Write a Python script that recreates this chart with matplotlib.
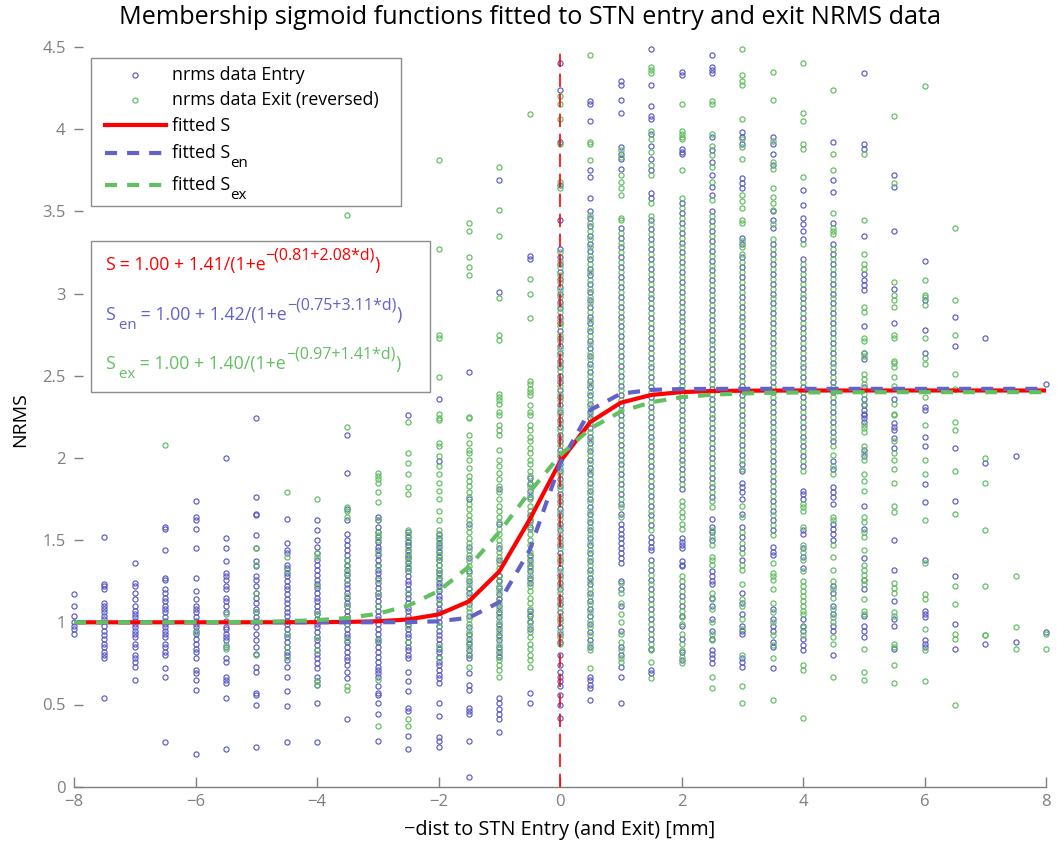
import numpy as np
import matplotlib
matplotlib.use("Agg")
import matplotlib.pyplot as plt
from matplotlib.patches import Rectangle
from matplotlib.lines import Line2D

plt.rcParams['font.family'] = ['Open Sans', 'DejaVu Sans']

# ---------------------------------------------------------------- data
depth_mm = [-8.0, -7.5, -7.0, -6.5, -6.0, -5.5, -5.0, -4.5, -4.0, -3.5, -3.0,
            -2.5, -2.0, -1.5, -1.0, -0.5, 0.0, 0.5, 1.0, 1.5, 2.0, 2.5, 3.0,
            3.5, 4.0, 4.5, 5.0, 5.5, 6.0, 6.5, 7.0, 7.5, 8.0]
x_ticks = [-8, -6, -4, -2, 0, 2, 4, 6, 8]
x_tick_labels = ['\u22128', '\u22126', '\u22124', '\u22122', '0', '2', '4', '6', '8']
y_ticks = [0, 0.5, 1, 1.5, 2, 2.5, 3, 3.5, 4, 4.5]
y_tick_labels = ['0', '0.5', '1', '1.5', '2', '2.5', '3', '3.5', '4', '4.5']

# NRMS samples per recording depth: entry trajectories (en_*) and exit (ex_*)
en_m80 = [1.17, 1.10, 1.04, 1.00, 0.98, 0.96, 0.93]
ex_m80 = []
en_m75 = [1.52, 1.23, 1.22, 1.20, 1.12, 1.10, 1.08, 1.06, 1.04, 1.02, 0.98, 0.95, 0.92,
          0.90, 0.87, 0.85, 0.82, 0.80, 0.78, 0.54]
ex_m75 = []
en_m70 = [1.36, 1.24, 1.22, 1.18, 1.14, 1.10, 1.07, 1.05, 1.03, 1.01, 0.99, 0.97, 0.95,
          0.93, 0.91, 0.87, 0.85, 0.80, 0.78, 0.76, 0.73, 0.65]
ex_m70 = []
en_m65 = [1.58, 1.57, 1.44, 1.27, 1.26, 1.20, 1.18, 1.15, 1.13, 1.10, 1.08, 1.06, 1.03,
          1.01, 0.99, 0.97, 0.95, 0.93, 0.91, 0.87, 0.85, 0.82, 0.80, 0.72, 0.67, 0.27]
ex_m65 = [2.08]
en_m60 = [1.74, 1.64, 1.62, 1.57, 1.45, 1.27, 1.19, 1.14, 1.10, 1.08, 1.06, 1.03, 1.01,
          0.99, 0.97, 0.95, 0.93, 0.90, 0.87, 0.84, 0.82, 0.78, 0.71, 0.69, 0.65, 0.59, 0.20]
ex_m60 = [0.94]
en_m55 = [2.00, 1.51, 1.45, 1.37, 1.30, 1.28, 1.26, 1.22, 1.20, 1.15, 1.13, 1.10, 1.06,
          1.01, 0.97, 0.96, 0.93, 0.91, 0.89, 0.85, 0.78, 0.76, 0.67, 0.65, 0.63, 0.54, 0.23]
ex_m55 = [1.05, 0.86, 0.84]
en_m50 = [2.24, 1.76, 1.66, 1.65, 1.53, 1.45, 1.37, 1.34, 1.28, 1.26, 1.22, 1.18, 1.15,
          1.12, 1.08, 1.06, 1.03, 1.01, 0.97, 0.93, 0.89, 0.85, 0.81, 0.73, 0.70, 0.57,
          0.56, 0.50, 0.24]
ex_m50 = [1.45, 1.35, 1.18, 1.06, 0.80]
en_m45 = [1.63, 1.48, 1.44, 1.42, 1.35, 1.33, 1.30, 1.28, 1.25, 1.22, 1.20, 1.17, 1.14,
          1.12, 1.09, 1.06, 1.04, 1.01, 0.99, 0.96, 0.93, 0.91, 0.88, 0.85, 0.82, 0.80,
          0.77, 0.73, 0.67, 0.58, 0.49, 0.27]
ex_m45 = [1.79, 1.40, 1.32, 0.93, 0.85, 0.79]
en_m40 = [1.62, 1.56, 1.50, 1.46, 1.42, 1.38, 1.35, 1.32, 1.29, 1.26, 1.23, 1.21, 1.18,
          1.15, 1.13, 1.10, 1.07, 1.05, 1.02, 0.99, 0.97, 0.94, 0.91, 0.89, 0.86, 0.83,
          0.81, 0.78, 0.75, 0.72, 0.67, 0.64, 0.62, 0.51, 0.27]
ex_m40 = [1.75, 1.42, 1.40, 1.22, 1.05, 0.91, 0.83, 0.64, 0.62]
en_m35 = [2.14, 1.91, 1.69, 1.62, 1.54, 1.50, 1.47, 1.44, 1.41, 1.38, 1.35, 1.32, 1.29,
          1.26, 1.23, 1.21, 1.18, 1.15, 1.12, 1.10, 1.07, 1.04, 1.02, 0.99, 0.96, 0.93,
          0.91, 0.88, 0.85, 0.82, 0.79, 0.77, 0.74, 0.70, 0.66, 0.41]
ex_m35 = [3.48, 2.19, 1.70, 1.68, 1.64, 1.38, 1.34, 1.30, 1.26, 1.16, 1.10, 0.99, 0.89,
          0.61, 0.59]
en_m30 = [1.64, 1.62, 1.58, 1.55, 1.52, 1.49, 1.46, 1.44, 1.41, 1.38, 1.35, 1.32, 1.30,
          1.27, 1.24, 1.21, 1.18, 1.16, 1.13, 1.10, 1.07, 1.04, 1.02, 0.99, 0.96, 0.93,
          0.90, 0.88, 0.85, 0.82, 0.79, 0.76, 0.73, 0.71, 0.69, 0.67, 0.61, 0.57, 0.56,
          0.51, 0.44, 0.28]
ex_m30 = [1.91, 1.89, 1.87, 1.85, 1.79, 1.73, 1.62, 1.55, 1.53, 1.50, 1.42, 1.34, 1.26,
          1.18, 1.10, 0.89, 0.65, 0.37]
en_m25 = [2.26, 1.55, 1.52, 1.49, 1.47, 1.44, 1.41, 1.39, 1.36, 1.33, 1.31, 1.28, 1.25,
          1.23, 1.20, 1.17, 1.15, 1.12, 1.09, 1.07, 1.04, 1.01, 0.99, 0.96, 0.93, 0.91,
          0.88, 0.85, 0.83, 0.80, 0.78, 0.70, 0.64, 0.58, 0.48, 0.46, 0.31, 0.23]
ex_m25 = [2.22, 2.03, 1.97, 1.90, 1.82, 1.78, 1.56, 1.53, 1.50, 1.46, 1.43, 1.40, 1.37,
          1.34, 1.31, 1.18, 1.02, 0.98, 0.88, 0.41, 0.37]
en_m20 = [2.36, 1.98, 1.54, 1.51, 1.48, 1.46, 1.43, 1.40, 1.38, 1.35, 1.32, 1.30, 1.27,
          1.24, 1.22, 1.19, 1.16, 1.14, 1.11, 1.08, 1.06, 1.03, 1.00, 0.98, 0.95, 0.92,
          0.90, 0.87, 0.84, 0.82, 0.79, 0.76, 0.74, 0.71, 0.68, 0.66, 0.63, 0.51, 0.43,
          0.30, 0.28, 0.24]
ex_m20 = [3.81, 3.27, 2.75, 2.73, 2.49, 2.27, 2.24, 2.23, 2.09, 2.07, 2.01, 1.95, 1.90,
          1.85, 1.80, 1.75, 1.68, 1.62, 1.56, 1.53, 1.50, 1.47, 1.44, 1.41, 1.38, 1.35,
          1.32, 1.29, 1.26, 1.20, 1.12, 0.98, 0.85, 0.78]
en_m15 = [2.52, 1.75, 1.60, 1.46, 1.39, 1.31, 1.25, 1.21, 1.18, 1.11, 1.04, 0.97, 0.93,
          0.90, 0.87, 0.83, 0.80, 0.78, 0.69, 0.62, 0.59, 0.48, 0.46, 0.44, 0.28, 0.06]
ex_m15 = [3.43, 3.38, 3.22, 3.16, 3.11, 2.25, 2.24, 2.14, 2.09, 2.05, 2.03, 1.99, 1.94,
          1.89, 1.86, 1.83, 1.79, 1.76, 1.72, 1.69, 1.65, 1.62, 1.58, 1.55, 1.51, 1.48,
          1.44, 1.41, 1.37, 1.34, 1.30, 1.27, 1.23, 1.20, 1.16, 1.13, 1.09, 1.06, 1.02,
          0.99, 0.95, 0.92, 0.88, 0.85, 0.81, 0.73]
en_m10 = [3.69, 3.01, 1.81, 1.60, 1.45, 1.38, 1.28, 1.25, 1.21, 1.17, 1.14, 1.10, 1.06,
          1.03, 0.99, 0.96, 0.92, 0.89, 0.85, 0.82, 0.79, 0.54, 0.51, 0.47, 0.44, 0.41, 0.33]
ex_m10 = [3.77, 3.51, 3.35, 2.97, 2.75, 2.72, 2.39, 2.37, 2.35, 2.33, 2.28, 2.26, 2.20,
          2.17, 2.14, 2.05, 1.99, 1.95, 1.91, 1.87, 1.83, 1.79, 1.75, 1.71, 1.68, 1.64,
          1.61, 1.57, 1.54, 1.50, 1.47, 1.43, 1.40, 1.36, 1.33, 1.29, 1.26, 1.22, 1.19,
          1.15, 1.12, 1.08, 1.05, 1.01, 0.98, 0.94, 0.91, 0.87, 0.84, 0.80, 0.77, 0.74,
          0.71, 0.67]
en_m05 = [3.23, 3.21, 1.88, 1.84, 1.80, 1.76, 1.65, 1.62, 1.58, 1.41, 1.38, 1.34, 1.31,
          1.27, 1.24, 1.07, 1.04, 1.00, 0.96, 0.57, 0.51]
ex_m05 = [4.09, 3.09, 3.00, 2.85, 2.47, 2.45, 2.42, 2.40, 2.38, 2.32, 2.28, 2.26, 2.20,
          2.17, 2.13, 2.10, 2.06, 2.03, 1.99, 1.96, 1.92, 1.89, 1.85, 1.82, 1.78, 1.75,
          1.71, 1.68, 1.64, 1.61, 1.57, 1.54, 1.50, 1.47, 1.43, 1.40, 1.36, 1.33, 1.29,
          1.26, 1.22, 1.19, 1.15, 1.12, 1.08, 1.05, 1.01, 0.98, 0.94, 0.91, 0.87, 0.84,
          0.80, 0.77, 0.73]
en_000 = [4.40, 4.24, 3.92, 3.66, 3.45, 3.27, 3.22, 3.18, 3.13, 3.09, 3.04, 3.00, 2.95,
          2.91, 2.86, 2.82, 2.77, 2.73, 2.68, 2.64, 2.59, 2.55, 2.50, 2.46, 2.41, 2.37,
          2.32, 2.28, 2.23, 2.19, 2.14, 2.10, 2.05, 2.01, 1.96, 1.92, 1.87, 1.83, 1.78,
          1.74, 1.69, 1.65, 1.60, 1.56, 1.51, 1.47, 1.42, 1.38, 1.33, 1.29, 1.24, 1.20,
          1.15, 1.11, 1.06, 1.02, 0.97, 0.93, 0.88, 0.80, 0.74, 0.70, 0.67, 0.64, 0.61,
          0.56, 0.50, 0.42]
ex_000 = [4.20, 4.15, 4.06, 3.91, 3.68, 3.64, 3.25, 3.20, 3.16, 3.11, 3.07, 3.02, 2.98,
          2.93, 2.89, 2.84, 2.80, 2.75, 2.71, 2.66, 2.62, 2.57, 2.53, 2.48, 2.44, 2.39,
          2.35, 2.30, 2.26, 2.21, 2.17, 2.12, 2.08, 2.03, 1.99, 1.94, 1.90, 1.85, 1.81,
          1.76, 1.72, 1.67, 1.63, 1.58, 1.54, 1.49, 1.45, 1.40, 1.36, 1.31, 1.27, 1.22,
          1.18, 1.13, 1.09, 1.04, 1.00, 0.95, 0.91, 0.87]
en_p05 = [4.17, 4.15, 4.05, 3.75, 3.71, 3.58, 3.50, 3.46, 3.41, 3.35, 3.30, 3.26, 3.21,
          3.15, 3.11, 3.06, 3.01, 2.96, 2.92, 2.86, 2.82, 2.77, 2.71, 2.67, 2.62, 2.57,
          2.52, 2.47, 2.43, 2.38, 2.33, 2.28, 2.24, 2.18, 2.13, 2.09, 2.04, 1.99, 1.94,
          1.90, 1.85, 1.80, 1.75, 1.70, 1.66, 1.61, 1.56, 1.51, 1.47, 1.42, 1.37, 1.32,
          1.27, 1.23, 1.18, 1.13, 1.08, 1.04, 0.99, 0.94, 0.89, 0.85, 0.67, 0.65, 0.62,
          0.60, 0.53]
ex_p05 = [4.45, 3.92, 3.91, 3.81, 3.48, 3.43, 3.38, 3.33, 3.28, 3.23, 3.18, 3.13, 3.08,
          3.03, 2.98, 2.94, 2.89, 2.84, 2.79, 2.74, 2.69, 2.64, 2.60, 2.55, 2.50, 2.45,
          2.40, 2.35, 2.31, 2.26, 2.21, 2.16, 2.11, 2.06, 2.02, 1.97, 1.92, 1.87, 1.82,
          1.78, 1.73, 1.68, 1.63, 1.58, 1.54, 1.49, 1.44, 1.39, 1.35, 1.30, 1.25, 1.20,
          1.16, 1.11, 1.06, 1.01, 0.97, 0.92, 0.87, 0.83, 0.72]
en_p10 = [4.29, 4.27, 4.18, 4.10, 3.89, 3.85, 3.82, 3.76, 3.40, 3.34, 3.28, 3.22, 3.16,
          3.10, 3.04, 2.98, 2.92, 2.86, 2.80, 2.74, 2.68, 2.62, 2.56, 2.50, 2.44, 2.38,
          2.32, 2.26, 2.20, 2.14, 2.08, 2.02, 1.96, 1.90, 1.84, 1.78, 1.72, 1.66, 1.60,
          1.57, 1.54, 1.51, 1.48, 1.45, 1.42, 1.39, 1.36, 1.25, 1.20, 1.10, 0.95, 0.85,
          0.80, 0.73, 0.67, 0.51]
ex_p10 = [3.87, 3.83, 3.72, 3.68, 3.64, 3.60, 3.46, 3.45, 3.37, 3.31, 3.25, 3.19, 3.13,
          3.07, 3.01, 2.95, 2.89, 2.83, 2.77, 2.71, 2.65, 2.59, 2.53, 2.47, 2.41, 2.35,
          2.29, 2.23, 2.17, 2.11, 2.05, 1.99, 1.93, 1.87, 1.81, 1.75, 1.70, 1.64, 1.24,
          1.18, 1.12, 1.05, 1.00, 0.93, 0.88, 0.83, 0.78, 0.76]
en_p15 = [4.49, 4.27, 4.14, 4.08, 4.06, 3.97, 3.90, 3.82, 3.75, 3.61, 3.58, 3.45, 3.39,
          3.33, 3.27, 3.21, 3.15, 3.09, 3.03, 2.97, 2.91, 2.85, 2.79, 2.73, 2.67, 2.61,
          2.55, 2.49, 2.43, 2.37, 2.31, 2.25, 2.19, 2.13, 2.07, 2.01, 1.95, 1.89, 1.83,
          1.77, 1.71, 1.65, 1.59, 1.52, 1.49, 1.46, 1.44, 1.38, 1.32, 1.26, 1.20, 1.14,
          1.08, 1.02, 0.96, 0.90, 0.84, 0.71, 0.69]
ex_p15 = [4.38, 4.36, 4.34, 3.99, 3.94, 3.86, 3.78, 3.72, 3.55, 3.47, 3.42, 3.36, 3.30,
          3.24, 3.18, 3.12, 3.06, 3.00, 2.94, 2.88, 2.82, 2.76, 2.70, 2.64, 2.58, 2.52,
          2.46, 2.40, 2.34, 2.28, 2.22, 2.16, 2.10, 2.04, 1.98, 1.92, 1.86, 1.80, 1.74,
          1.68, 1.62, 1.56, 1.35, 1.29, 1.23, 1.17, 1.11, 1.05, 0.99, 0.93, 0.87, 0.83,
          0.76, 0.66]
en_p20 = [4.35, 4.33, 3.88, 3.86, 3.85, 3.55, 3.49, 3.43, 3.37, 3.31, 3.25, 3.19, 3.13,
          3.07, 3.01, 2.95, 2.89, 2.83, 2.77, 2.71, 2.65, 2.59, 2.53, 2.47, 2.41, 2.35,
          2.29, 2.23, 2.17, 2.11, 2.05, 1.99, 1.93, 1.87, 1.81, 1.51, 1.49, 1.47, 1.45,
          1.37, 1.35, 1.34, 1.22, 1.16, 1.10, 1.04, 0.98, 0.90, 0.82, 0.77]
ex_p20 = [4.15, 3.99, 3.97, 3.95, 3.94, 3.75, 3.58, 3.52, 3.46, 3.40, 3.34, 3.28, 3.22,
          3.16, 3.10, 3.04, 2.98, 2.92, 2.86, 2.80, 2.74, 2.68, 2.62, 2.56, 2.50, 2.44,
          2.38, 2.32, 2.26, 2.20, 2.14, 2.08, 2.02, 1.96, 1.90, 1.84, 1.74, 1.71, 1.67,
          1.64, 1.60, 1.57, 1.28, 1.25, 1.19, 1.13, 1.07, 1.03, 0.99, 0.93, 0.87, 0.83,
          0.79, 0.75]
en_p25 = [4.45, 4.38, 4.36, 4.34, 3.95, 3.87, 3.80, 3.72, 3.65, 3.60, 3.50, 3.44, 3.38,
          3.32, 3.26, 3.20, 3.14, 3.08, 3.02, 2.96, 2.90, 2.84, 2.78, 2.72, 2.66, 2.60,
          2.54, 2.48, 2.42, 2.36, 2.30, 2.24, 2.18, 2.12, 2.06, 2.00, 1.94, 1.88, 1.82,
          1.76, 1.63, 1.58, 1.55, 1.50, 1.31, 1.28, 1.25, 1.23, 1.15, 1.10, 1.02, 0.95,
          0.90, 0.83, 0.81, 0.78, 0.75]
ex_p25 = [4.17, 4.15, 3.97, 3.90, 3.84, 3.77, 3.68, 3.57, 3.47, 3.41, 3.35, 3.29, 3.23,
          3.17, 3.11, 3.05, 2.99, 2.93, 2.87, 2.81, 2.75, 2.69, 2.63, 2.57, 2.51, 2.45,
          2.39, 2.33, 2.27, 2.21, 2.15, 2.09, 2.03, 1.97, 1.91, 1.85, 1.79, 1.74, 1.70,
          1.56, 1.52, 1.47, 1.40, 1.38, 1.35, 1.18, 1.14, 1.08, 1.00, 0.93, 0.89, 0.67,
          0.60]
en_p30 = [3.98, 3.95, 3.91, 3.70, 3.67, 3.64, 3.34, 3.30, 3.22, 3.16, 3.10, 3.04, 2.98,
          2.92, 2.86, 2.80, 2.74, 2.68, 2.62, 2.56, 2.50, 2.44, 2.38, 2.32, 2.26, 2.20,
          2.14, 2.08, 2.02, 1.96, 1.92, 1.85, 1.82, 1.79, 1.75, 1.66, 1.58, 1.52, 1.45,
          1.38, 1.18, 1.12, 1.05, 0.98, 0.95, 0.93, 0.78, 0.76, 0.73]
ex_p30 = [4.49, 4.33, 4.29, 4.27, 4.06, 3.94, 3.89, 3.82, 3.60, 3.56, 3.52, 3.45, 3.43,
          3.32, 3.28, 3.24, 3.19, 3.13, 3.07, 3.01, 2.95, 2.89, 2.83, 2.77, 2.71, 2.65,
          2.59, 2.53, 2.47, 2.41, 2.35, 2.29, 2.23, 2.17, 2.11, 2.05, 1.99, 1.93, 1.71,
          1.64, 1.55, 1.48, 1.42, 1.35, 1.32, 1.23, 1.14, 1.10, 1.02, 0.96, 0.80, 0.61,
          0.51]
en_p35 = [3.95, 3.91, 3.85, 3.78, 3.50, 3.45, 3.40, 3.30, 3.24, 3.18, 3.12, 3.06, 3.00,
          2.94, 2.88, 2.82, 2.76, 2.70, 2.64, 2.58, 2.52, 2.46, 2.40, 2.34, 2.28, 2.22,
          2.16, 2.10, 2.04, 1.98, 1.92, 1.86, 1.80, 1.74, 1.68, 1.62, 1.56, 1.46, 1.43,
          1.41, 1.08, 1.02, 0.98, 0.95, 0.88, 0.85, 0.72]
ex_p35 = [4.35, 4.18, 3.93, 3.80, 3.76, 3.64, 3.59, 3.55, 3.51, 3.42, 3.33, 3.27, 3.21,
          3.15, 3.09, 3.03, 2.97, 2.91, 2.85, 2.79, 2.73, 2.67, 2.61, 2.55, 2.49, 2.43,
          2.37, 2.31, 2.25, 2.19, 2.13, 2.07, 2.01, 1.95, 1.89, 1.83, 1.77, 1.71, 1.65,
          1.59, 1.53, 1.36, 1.30, 1.28, 1.26, 1.20, 1.12, 1.06, 1.00, 0.92, 0.86, 0.78,
          0.53]
en_p40 = [3.63, 3.54, 3.46, 3.42, 3.38, 3.33, 3.21, 3.15, 3.09, 3.03, 2.97, 2.91, 2.85,
          2.79, 2.73, 2.67, 2.61, 2.55, 2.49, 2.43, 2.37, 2.31, 2.25, 2.19, 2.13, 2.07,
          2.01, 1.95, 1.80, 1.78, 1.75, 1.56, 1.54, 1.45, 1.40, 1.33, 1.02, 0.98, 0.95,
          0.90, 0.86, 0.83]
ex_p40 = [4.40, 4.10, 4.05, 3.91, 3.88, 3.71, 3.30, 3.18, 3.12, 3.06, 3.00, 2.94, 2.88,
          2.82, 2.76, 2.70, 2.64, 2.58, 2.52, 2.46, 2.40, 2.34, 2.28, 2.22, 2.16, 2.10,
          2.04, 1.98, 1.92, 1.72, 1.70, 1.68, 1.58, 1.47, 1.43, 1.38, 1.31, 1.25, 1.22,
          1.19, 1.16, 1.13, 1.10, 1.07, 1.05, 0.97, 0.92, 0.74, 0.71, 0.42]
en_p45 = [3.92, 3.69, 3.62, 3.43, 3.30, 3.24, 3.18, 3.12, 3.06, 3.00, 2.94, 2.88, 2.82,
          2.76, 2.70, 2.64, 2.58, 2.52, 2.46, 2.40, 2.34, 2.28, 2.22, 2.16, 2.10, 1.98,
          1.93, 1.82, 1.79, 1.76, 1.72, 1.60, 1.57, 1.54, 1.50, 1.22, 1.18, 1.10, 1.05,
          0.98, 0.95, 0.80]
ex_p45 = [4.24, 3.85, 3.75, 3.49, 3.40, 3.38, 3.36, 3.27, 3.21, 3.15, 3.09, 3.03, 2.97,
          2.91, 2.85, 2.79, 2.73, 2.67, 2.61, 2.55, 2.49, 2.43, 2.37, 2.31, 2.25, 2.19,
          2.13, 2.07, 2.02, 1.95, 1.90, 1.64, 1.62, 1.47, 1.40, 1.32, 1.25, 1.20, 1.15,
          1.08, 1.03, 1.00, 0.91, 0.87, 0.67]
en_p50 = [4.34, 3.91, 3.88, 3.35, 3.12, 3.08, 3.05, 3.02, 2.80, 2.64, 2.60, 2.43, 2.36,
          2.32, 2.29, 2.27, 2.26, 2.24, 2.22, 2.05, 2.01, 1.71, 1.57, 1.39, 1.26, 1.20,
          1.04, 0.98, 0.95, 0.91]
ex_p50 = [3.85, 3.45, 3.24, 3.18, 3.15, 2.92, 2.89, 2.73, 2.71, 2.64, 2.62, 2.51, 2.48,
          2.45, 2.39, 2.33, 2.20, 2.18, 2.16, 2.07, 2.03, 1.99, 1.90, 1.86, 1.80, 1.64,
          1.61, 1.55, 1.52, 1.44, 1.35, 1.32, 1.29, 1.26, 1.23, 1.14, 1.07, 1.05, 0.84,
          0.70, 0.65]
en_p55 = [3.72, 3.65, 3.38, 3.03, 2.82, 2.36, 2.21, 2.19, 2.17, 2.12, 2.06, 1.50, 1.32,
          1.13, 1.02, 0.98, 0.84]
ex_p55 = [4.08, 3.67, 3.07, 2.99, 2.96, 2.92, 2.75, 2.73, 2.59, 2.58, 2.55, 2.49, 2.44,
          2.33, 2.27, 2.26, 2.10, 2.03, 1.99, 1.93, 1.85, 1.71, 1.67, 1.24, 1.21, 1.18,
          1.06, 1.04, 0.87, 0.85, 0.74, 0.63]
en_p60 = [3.20, 2.96, 2.78, 2.64, 2.31, 2.29, 2.13, 2.07, 1.84, 1.73, 1.38, 1.07, 1.05,
          1.03, 0.89, 0.87, 0.85]
ex_p60 = [4.26, 3.08, 2.99, 2.98, 2.93, 2.73, 2.61, 2.57, 2.41, 2.37, 2.20, 1.99, 1.90,
          1.62, 1.36, 1.17, 1.14, 0.96, 0.83, 0.64]
en_p65 = [2.86, 2.68, 2.06, 1.74, 1.28, 0.99, 0.84]
ex_p65 = [3.40, 2.96, 2.75, 2.51, 2.42, 2.22, 2.17, 1.92, 1.66, 1.22, 1.11, 0.93, 0.90,
          0.50]
en_p70 = [2.73, 1.97, 0.87]
ex_p70 = [2.00, 1.85, 1.56, 1.22, 0.92, 0.92]
en_p75 = [2.01, 0.88]
ex_p75 = [1.28, 0.97, 0.84]
en_p80 = [2.45, 0.94]
ex_p80 = [0.93, 0.84]

entry_cols = [en_m80, en_m75, en_m70, en_m65, en_m60, en_m55, en_m50, en_m45, en_m40,
              en_m35, en_m30, en_m25, en_m20, en_m15, en_m10, en_m05, en_000, en_p05,
              en_p10, en_p15, en_p20, en_p25, en_p30, en_p35, en_p40, en_p45, en_p50,
              en_p55, en_p60, en_p65, en_p70, en_p75, en_p80]
exit_cols = [ex_m80, ex_m75, ex_m70, ex_m65, ex_m60, ex_m55, ex_m50, ex_m45, ex_m40,
             ex_m35, ex_m30, ex_m25, ex_m20, ex_m15, ex_m10, ex_m05, ex_000, ex_p05,
             ex_p10, ex_p15, ex_p20, ex_p25, ex_p30, ex_p35, ex_p40, ex_p45, ex_p50,
             ex_p55, ex_p60, ex_p65, ex_p70, ex_p75, ex_p80]

# fitted sigmoid parameters (base, amplitude, offset, slope)
fit_S = (1.00, 1.41, 0.81, 2.08)
fit_Sen = (1.00, 1.42, 0.75, 3.11)
fit_Sex = (1.00, 1.40, 0.97, 1.41)

# ---------------------------------------------------------------- style
C_EN = '#5a5ac6'
C_EX = '#5ebd5e'
C_EN_LINE = '#6262c8'
C_EX_LINE = '#62c062'
C_RED = '#ff0000'
C_GREY = '#7f7f7f'

W, H = 1057, 851
fig = plt.figure(figsize=(W / 100, H / 100), dpi=100)
ax = fig.add_axes([74 / W, (H - 786.7) / H, 972 / W, 739.8 / H])
renderer = fig.canvas.get_renderer()


def fx(px):
    return px / W


def fy(py):
    return 1 - py / H


def sigmoid(d, p):
    a, b, c, k = p
    return a + b / (1 + np.exp(-(c + k * np.asarray(d))))


def rich_text(x_px, base_px, pieces, color, fs):
    """Write pieces (text, size factor, vertical shift in px) one after another."""
    x = x_px
    for txt, scale, dy in pieces:
        t = fig.text(fx(x), fy(base_px + dy), txt, ha='left', va='baseline',
                     fontsize=fs * scale, color=color, zorder=12)
        x += t.get_window_extent(renderer).width


MS = 3.7
MEW = 0.85

for d, col in zip(depth_mm, entry_cols):
    if col:
        ax.plot(np.full(len(col), d), col, 'o', ls='none', mfc='none', mec=C_EN,
                ms=MS, mew=MEW, clip_on=False, zorder=2)
for d, col in zip(depth_mm, exit_cols):
    if col:
        ax.plot(np.full(len(col), d), col, 'o', ls='none', mfc='none', mec=C_EX,
                ms=MS, mew=MEW, clip_on=False, zorder=3)

ax.axvline(0, color=C_RED, lw=1.2, ls=(0, (8, 4)), zorder=4)

d_arr = np.array(depth_mm)
DASH = (0, (2.9, 2.4))
ax.plot(d_arr, sigmoid(d_arr, fit_S), color=C_RED, lw=3.0, zorder=5,
        solid_joinstyle='round')
ax.plot(d_arr, sigmoid(d_arr, fit_Sen), color=C_EN_LINE, lw=3.0, ls=DASH, zorder=6)
ax.plot(d_arr, sigmoid(d_arr, fit_Sex), color=C_EX_LINE, lw=3.0, ls=DASH, zorder=7)

ax.set_xlim(-8, 8)
ax.set_ylim(0, 4.5)
ax.set_xticks(x_ticks)
ax.set_xticklabels(x_tick_labels)
ax.set_yticks(y_ticks)
ax.set_yticklabels(y_tick_labels)
for s in ('top', 'right', 'left'):
    ax.spines[s].set_visible(False)
ax.spines['bottom'].set_color(C_GREY)
ax.spines['bottom'].set_linewidth(1.0)
ax.tick_params(axis='both', direction='in', colors=C_GREY, labelsize=12, width=1.0)
ax.tick_params(axis='y', length=6.5, pad=6)
ax.tick_params(axis='x', length=7, pad=5)

# titles and axis labels
fig.text(fx(530), fy(17), 'Membership sigmoid functions fitted to STN entry and exit NRMS data',
         ha='center', va='center', fontsize=18.2, color='black')
fig.text(fx(560), fy(830), '\u2212dist to STN Entry (and Exit) [mm]', ha='center', va='center',
         fontsize=14.3, color='black')
fig.text(fx(20), fy(420), 'NRMS', ha='center', va='center', rotation=90,
         fontsize=14, color='black')

# legend box
fig.add_artist(Rectangle((fx(91), fy(206)), fx(401) - fx(91), fy(58) - fy(206),
                         transform=fig.transFigure, fill=True, facecolor='white',
                         edgecolor='#8c8c8c', lw=1.0, zorder=10))
LEG_FS = 12.8
legend_rows = [
    ('marker', C_EN, 75, 80, [('nrms data Entry', 1.0, 0)]),
    ('marker', C_EX, 100, 105, [('nrms data Exit (reversed)', 1.0, 0)]),
    ('solid', C_RED, 125, 131, [('fitted S', 1.0, 0)]),
    ('dash', C_EN_LINE, 153, 158, [('fitted S', 1.0, 0), ('en', 0.85, 9)]),
    ('dash', C_EX_LINE, 185, 190, [('fitted S', 1.0, 0), ('ex', 0.85, 9)]),
]
for kind, color, ly, base, pieces in legend_rows:
    if kind == 'marker':
        fig.add_artist(Line2D([fx(135)], [fy(ly)], transform=fig.transFigure, marker='o',
                              ls='none', mfc='none', mec=color, ms=MS, mew=MEW, zorder=11))
    else:
        fig.add_artist(Line2D([fx(105), fx(166)], [fy(ly), fy(ly)], transform=fig.transFigure,
                              color=color, lw=3.0, ls='-' if kind == 'solid' else DASH,
                              zorder=11))
    rich_text(172, base, pieces, 'black', LEG_FS)

# fitted equation box
fig.add_artist(Rectangle((fx(91), fy(392)), fx(430) - fx(91), fy(241) - fy(392),
                         transform=fig.transFigure, fill=True, facecolor='white',
                         edgecolor='#8c8c8c', lw=1.0, zorder=10))


def eq_pieces(sub, p):
    a, b, c, k = p
    pieces = [('S', 1.0, 0)]
    if sub:
        pieces.append((' ' + sub, 0.85, 9))
    pieces += [(' = %.2f + %.2f/(1+e' % (a, b), 1.0, 0),
               ('\u2212(%.2f+%.2f*d)' % (c, k), 0.9, -11),
               (')', 1.0, 0)]
    return pieces


EQ_FS = 12.8
rich_text(105, 270, eq_pieces('', fit_S), C_RED, EQ_FS)
rich_text(105, 320, eq_pieces('en', fit_Sen), C_EN_LINE, EQ_FS)
rich_text(105, 369, eq_pieces('ex', fit_Sex), C_EX_LINE, EQ_FS)

fig.savefig('out.png', dpi=100)
